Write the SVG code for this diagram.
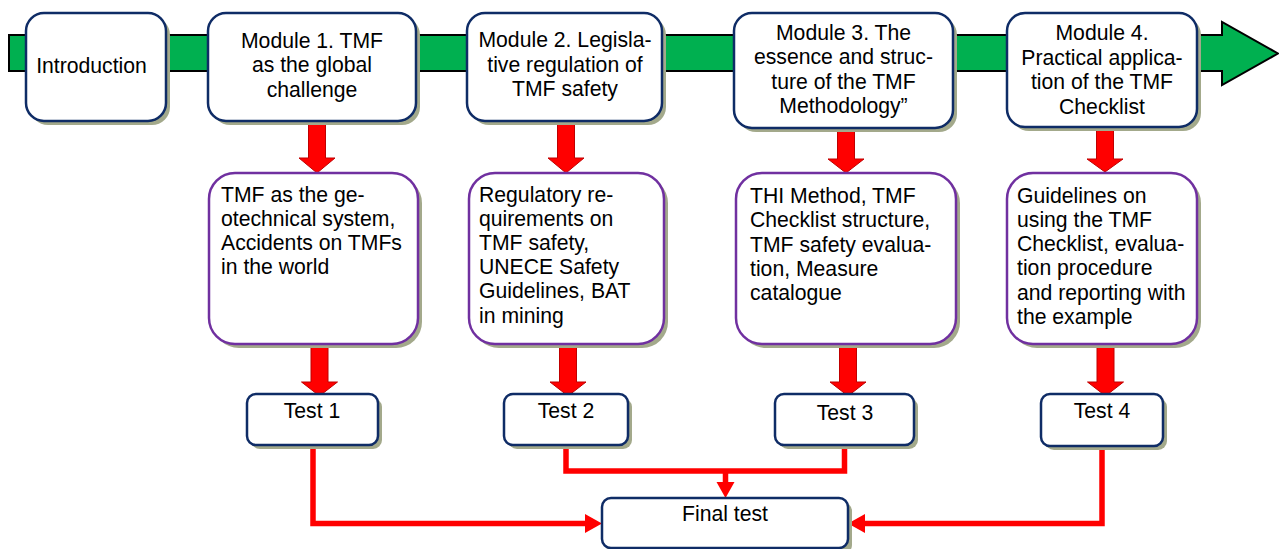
<svg xmlns="http://www.w3.org/2000/svg" width="1279" height="549" viewBox="0 0 1279 549">
  <style>
    .shadow { fill: #a3a98b; }
    .mod { fill: #ffffff; stroke: #0f2c66; stroke-width: 2.5; }
    .topic { fill: #ffffff; stroke: #7030a0; stroke-width: 2.5; }
    .lbl { font-family: "Liberation Sans", Arial, sans-serif; font-size: 21.2px; fill: #000000; }
    .c { text-anchor: middle; }
    .block { fill: #ff0000; stroke: #c00000; stroke-width: 1; }
    .wire { fill: none; stroke: #ff0000; stroke-width: 5.5; stroke-linejoin: miter; }
    .head { fill: #ff0000; }
  </style>

  <!-- timeline band -->
  <path d="M9,35 H1222 V22 L1278,53.5 L1222,85 V71 H9 Z" fill="#00b050" stroke="#000000" stroke-width="2"/>

  <!-- block arrows: modules to topics, topics to tests -->
  <g id="flow-arrows">
    <path class="block" d="M308.5,121 H325.5 V158 H335 L317,173 L299,158 H308.5 Z"/>
    <path class="block" d="M557.5,121 H574.5 V158 H584 L566,173 L548,158 H557.5 Z"/>
    <path class="block" d="M837.5,128 H854.5 V159 H864 L846,173 L828,159 H837.5 Z"/>
    <path class="block" d="M1096.5,127 H1113.5 V159 H1123 L1105,172 L1087,159 H1096.5 Z"/>
    <path class="block" d="M311,344 H328 V382 H337.5 L319.5,396 L301.5,382 H311 Z"/>
    <path class="block" d="M559.5,344 H576.5 V382 H586 L568,396 L550,382 H559.5 Z"/>
    <path class="block" d="M839.5,344 H856.5 V382 H866 L848,396 L830,382 H839.5 Z"/>
    <path class="block" d="M1097,344 H1114 V382 H1123.5 L1105.5,396 L1087.5,382 H1097 Z"/>
  </g>

  <!-- connectors from tests to the final test -->
  <g id="connectors">
    <path class="wire" d="M313,445 V523.5 H586"/>
    <polygon class="head" points="585,514 602,523.5 585,533"/>
    <path class="wire" d="M566,445 V471 H844.5 V445"/>
    <path class="wire" d="M725.5,471 V483"/>
    <polygon class="head" points="716.5,482 734.5,482 725.5,498"/>
    <path class="wire" d="M1102,446 V523.5 H864"/>
    <polygon class="head" points="865,514 848,523.5 865,533"/>
  </g>

  <g id="introduction">
    <rect class="shadow" x="30" y="17" width="140" height="108" rx="18"/>
    <rect class="mod" x="26" y="13" width="140" height="108" rx="18"/>
    <text class="lbl c" x="91.5" y="72.5">Introduction</text>
  </g>

  <g id="module-1">
    <rect class="shadow" x="212" y="17" width="208" height="108" rx="18"/>
    <rect class="mod" x="208" y="13" width="208" height="108" rx="18"/>
    <text class="lbl c" x="312" y="47.5">Module 1. TMF</text>
    <text class="lbl c" x="312" y="72">as the global</text>
    <text class="lbl c" x="312" y="96.5">challenge</text>
  </g>

  <g id="module-2">
    <rect class="shadow" x="471" y="17" width="195" height="108" rx="18"/>
    <rect class="mod" x="467" y="13" width="195" height="108" rx="18"/>
    <text class="lbl c" x="565" y="47">Module 2. Legisla-</text>
    <text class="lbl c" x="565" y="71.5">tive regulation of</text>
    <text class="lbl c" x="565" y="96">TMF safety</text>
  </g>

  <g id="module-3">
    <rect class="shadow" x="738" y="17" width="219" height="115" rx="18"/>
    <rect class="mod" x="734" y="13" width="219" height="115" rx="18"/>
    <text class="lbl c" x="843.5" y="40">Module 3. The</text>
    <text class="lbl c" x="843.5" y="64">essence and struc-</text>
    <text class="lbl c" x="843.5" y="88.5">ture of the TMF</text>
    <text class="lbl c" x="843.5" y="112.5">Methodology”</text>
  </g>

  <g id="module-4">
    <rect class="shadow" x="1011" y="17" width="190" height="114" rx="18"/>
    <rect class="mod" x="1007" y="13" width="190" height="114" rx="18"/>
    <text class="lbl c" x="1102" y="40">Module 4.</text>
    <text class="lbl c" x="1102" y="64.5">Practical applica-</text>
    <text class="lbl c" x="1102" y="89">tion of the TMF</text>
    <text class="lbl c" x="1102" y="113.5">Checklist</text>
  </g>

  <g id="topics-1">
    <rect class="shadow" x="213" y="177" width="209" height="171" rx="26"/>
    <rect class="topic" x="209" y="173" width="209" height="171" rx="26"/>
    <text class="lbl" x="221" y="202">TMF as the ge-</text>
    <text class="lbl" x="221" y="226">otechnical system,</text>
    <text class="lbl" x="221" y="250">Accidents on TMFs</text>
    <text class="lbl" x="221" y="274">in the world</text>
  </g>

  <g id="topics-2">
    <rect class="shadow" x="473" y="177" width="195" height="171" rx="26"/>
    <rect class="topic" x="469" y="173" width="195" height="171" rx="26"/>
    <text class="lbl" x="479" y="202">Regulatory re-</text>
    <text class="lbl" x="479" y="226">quirements on</text>
    <text class="lbl" x="479" y="250">TMF safety,</text>
    <text class="lbl" x="479" y="274">UNECE Safety</text>
    <text class="lbl" x="479" y="298">Guidelines, BAT</text>
    <text class="lbl" x="479" y="322.5">in mining</text>
  </g>

  <g id="topics-3">
    <rect class="shadow" x="740" y="177" width="220" height="171" rx="26"/>
    <rect class="topic" x="736" y="173" width="220" height="171" rx="26"/>
    <text class="lbl" x="750" y="203">THI Method, TMF</text>
    <text class="lbl" x="750" y="227">Checklist structure,</text>
    <text class="lbl" x="750" y="251.5">TMF safety evalua-</text>
    <text class="lbl" x="750" y="275.5">tion, Measure</text>
    <text class="lbl" x="750" y="300">catalogue</text>
  </g>

  <g id="topics-4">
    <rect class="shadow" x="1011" y="177" width="190" height="171" rx="26"/>
    <rect class="topic" x="1007" y="173" width="190" height="171" rx="26"/>
    <text class="lbl" x="1017" y="203">Guidelines on</text>
    <text class="lbl" x="1017" y="227">using the TMF</text>
    <text class="lbl" x="1017" y="251">Checklist, evalua-</text>
    <text class="lbl" x="1017" y="275">tion procedure</text>
    <text class="lbl" x="1017" y="299.5">and reporting with</text>
    <text class="lbl" x="1017" y="323.5">the example</text>
  </g>

  <g id="test-1">
    <rect class="shadow" x="251" y="398" width="131" height="51" rx="9"/>
    <rect class="mod" x="247" y="394" width="131" height="51" rx="9"/>
    <text class="lbl c" x="312" y="418">Test 1</text>
  </g>

  <g id="test-2">
    <rect class="shadow" x="508" y="398" width="124" height="51" rx="9"/>
    <rect class="mod" x="504" y="394" width="124" height="51" rx="9"/>
    <text class="lbl c" x="566" y="418">Test 2</text>
  </g>

  <g id="test-3">
    <rect class="shadow" x="779" y="398" width="139" height="51" rx="9"/>
    <rect class="mod" x="775" y="394" width="139" height="51" rx="9"/>
    <text class="lbl c" x="845" y="420">Test 3</text>
  </g>

  <g id="test-4">
    <rect class="shadow" x="1045" y="398" width="122" height="52" rx="9"/>
    <rect class="mod" x="1041" y="394" width="122" height="52" rx="9"/>
    <text class="lbl c" x="1102" y="418">Test 4</text>
  </g>

  <g id="final-test">
    <rect class="shadow" x="606" y="502" width="246" height="52" rx="9"/>
    <rect class="mod" x="602" y="498" width="246" height="50" rx="9"/>
    <text class="lbl c" x="725" y="521">Final test</text>
  </g>
</svg>
